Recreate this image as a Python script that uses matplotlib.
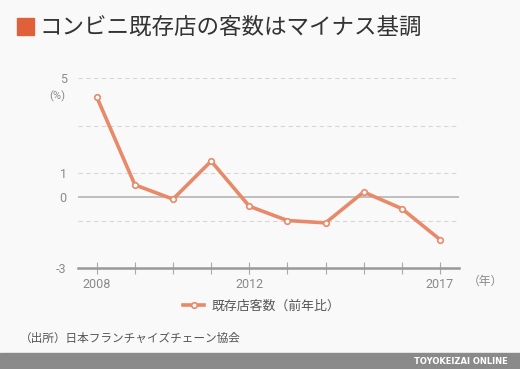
import matplotlib.pyplot as plt
from matplotlib.patches import Rectangle

plt.rcParams['font.family'] = ['Noto Sans CJK JP', 'DejaVu Sans']

# データ
years = [2008, 2009, 2010, 2011, 2012, 2013, 2014, 2015, 2016, 2017]
values = [4.2, 0.5, -0.1, 1.5, -0.4, -1.0, -1.1, 0.2, -0.5, -1.8]
ytick_vals = [5, 1, 0, -3]
xtick_labels = [2008, 2012, 2017]
grid_vals = [5, 3, 1, -1]

bg = '#f9f9f9'
line_color = '#e8896a'
text_gray = '#8a8a8a'

fig = plt.figure(figsize=(5.2, 3.69), dpi=100, facecolor=bg)
ax = fig.add_axes([77.7 / 520, 1 - 268 / 369, 381.3 / 520, 190 / 369])
ax.set_facecolor(bg)

# タイトル
fig.patches.append(Rectangle((17 / 520, 1 - 35 / 369), 17 / 520, 17 / 369,
                             transform=fig.transFigure, color='#e0603a'))
fig.text(39 / 520, 1 - 27 / 369, 'コンビニ既存店の客数はマイナス基調',
         fontsize=16.2, color='#333333', va='center', ha='left')

# グリッド
for g in grid_vals:
    ax.axhline(g, color='#d6d6d6', lw=0.8, ls=(0, (4, 3)), zorder=1)
ax.axhline(0, color='#b5b5b5', lw=1.2, zorder=1)

ax.plot(years, values, color=line_color, lw=2.6, marker='o', ms=4,
        mfc='white', mec=line_color, mew=1.2, zorder=3,
        label='既存店客数（前年比）')

ax.set_xlim(2007.5, 2017.5)
ax.set_ylim(-3, 5)
for s in ['top', 'right', 'left']:
    ax.spines[s].set_visible(False)
ax.spines['bottom'].set_color('#999999')
ax.spines['bottom'].set_linewidth(1.8)

ax.set_yticks(ytick_vals)
ax.set_yticklabels([str(v) for v in ytick_vals], family='Roboto')
ax.tick_params(axis='y', length=0, pad=8, labelsize=9, labelcolor=text_gray)
ax.set_xticks(years)
ax.set_xticklabels([str(y) if y in xtick_labels else '' for y in years],
                   family='Roboto')
ax.tick_params(axis='x', direction='inout', length=8, width=0.8,
               color='#aaaaaa', labelsize=9, labelcolor=text_gray, pad=3)

fig.text(57 / 520, 1 - 96 / 369, '(%)', fontsize=8, color=text_gray,
         ha='center', va='center', family='Roboto')
fig.text(485 / 520, 1 - 281 / 369, '（年）', fontsize=8.5, color=text_gray,
         ha='center', va='center')

fig.legend(loc='center', bbox_to_anchor=(262 / 520, 1 - 306 / 369),
           frameon=False, fontsize=9.3, handlelength=1.6, handletextpad=0.6,
           labelcolor='#555555')

fig.text(20 / 520, 1 - 338 / 369, '（出所）日本フランチャイズチェーン協会',
         fontsize=8.4, color='#555555', ha='left', va='center')

# 下のバー
fig.patches.append(Rectangle((0, 0), 1, 16 / 369, transform=fig.transFigure,
                             color='#8a8a8a'))
fig.text(508 / 520, 8 / 369, 'TOYOKEIZAI ONLINE', fontsize=6, color='white',
         fontweight='bold', ha='right', va='center', family='DejaVu Sans')

fig.savefig('out.png', dpi=100, facecolor=bg)
